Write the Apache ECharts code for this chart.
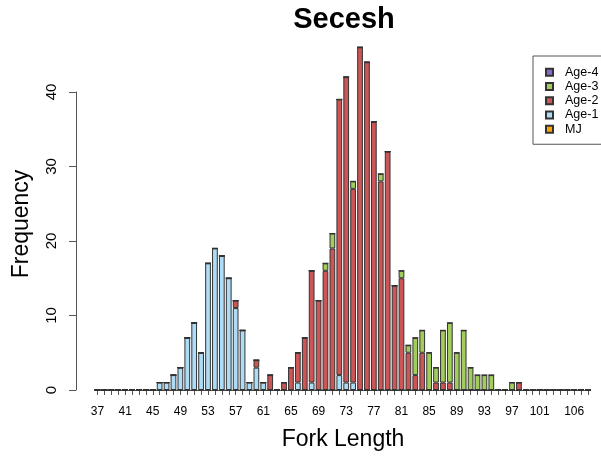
<!DOCTYPE html>
<html>
<head>
<meta charset="utf-8">
<script src="https://cdn.jsdelivr.net/npm/echarts@6/dist/echarts.min.js"></script>
<style>html,body{margin:0;padding:0;background:#fff;}#c{width:601px;height:459px;}</style>
</head>
<body>
<div id="c"></div>
<script>
// Fork length categories 37..108
var categories = [];
for (var v = 37; v <= 108; v++) categories.push(String(v));

// counts per fork length (only non-zero lengths listed)
var mjCounts = {};
var age1Counts = {46:1,47:1,48:2,49:3,50:7,51:9,52:5,53:17,54:19,55:18,56:15,57:11,58:8,59:1,60:3,61:1,66:1,68:1,72:2,73:1,74:1};
var age2Counts = {57:1,60:1,62:2,64:1,65:3,66:4,67:7,68:15,69:12,70:16,71:19,72:37,73:41,74:26,75:46,76:44,77:36,78:28,79:32,80:14,81:15,82:5,83:2,84:5,86:1,87:1,88:1,98:1};
var age3Counts = {70:1,71:2,74:1,78:1,81:1,82:1,83:5,84:3,85:5,86:2,87:7,88:8,89:5,90:8,91:3,92:2,93:2,94:2,97:1};
var age4Counts = {};

var yTicks = [0, 10, 20, 30, 40];
var xLabelsShown = ['37','41','45','49','53','57','61','65','69','73','77','81','85','89','93','97','101','106'];

function toArr(m) { return categories.map(function (c) { return m[c] || 0; }); }

var seriesDefs = [
  {name: 'MJ', data: toArr(mjCounts), color: '#FFA500'},
  {name: 'Age-1', data: toArr(age1Counts), color: '#ADDCF7'},
  {name: 'Age-2', data: toArr(age2Counts), color: '#CD5555'},
  {name: 'Age-3', data: toArr(age3Counts), color: '#A2CD5A'},
  {name: 'Age-4', data: toArr(age4Counts), color: '#8968CD'}
];

var FONT = 'Liberation Sans, Arial, Helvetica, sans-serif';
var chart = echarts.init(document.getElementById('c'), null, {renderer: 'canvas'});

var series = seriesDefs.map(function (s) {
  return {
    name: s.name, type: 'bar', stack: 'all',
    xAxisIndex: 0, yAxisIndex: 0,
    data: s.data, barWidth: '83%',
    itemStyle: {color: s.color, borderColor: '#333', borderWidth: 1},
    emphasis: {disabled: true}, animation: false
  };
});
series.push({type: 'scatter', xAxisIndex: 1, yAxisIndex: 1, data: [], silent: true});

chart.setOption({
  animation: false,
  backgroundColor: '#fff',
  grid: [
    {left: 94, right: 9.5, top: 17.5, bottom: 69},
    {left: 97.5, right: 13, top: 92, bottom: 69}
  ],
  xAxis: [
    {gridIndex: 0, type: 'category', data: categories, show: false, boundaryGap: true},
    {gridIndex: 1, type: 'category', data: categories, boundaryGap: false, offset: 4,
     axisLine: {show: true, lineStyle: {color: '#555', width: 1}},
     axisTick: {show: true, interval: 0, length: 5, lineStyle: {color: '#555'}},
     axisLabel: {
       interval: function (i, val) { return xLabelsShown.indexOf(val) >= 0; },
       fontSize: 12, color: '#000', fontFamily: FONT, margin: 12
     },
     splitLine: {show: false}}
  ],
  yAxis: [
    {gridIndex: 0, type: 'value', min: 0, max: 50, show: false},
    {gridIndex: 1, type: 'value', min: yTicks[0], max: yTicks[yTicks.length - 1], interval: 10, offset: 21.5,
     axisLine: {show: true, lineStyle: {color: '#555', width: 1}},
     axisTick: {show: true, length: 7, lineStyle: {color: '#555'}},
     axisLabel: {rotate: 90, fontSize: 15, color: '#000', fontFamily: FONT, margin: 17},
     splitLine: {show: false}}
  ],
  legend: {
    orient: 'vertical', left: 533, top: 56,
    data: ['Age-4', 'Age-3', 'Age-2', 'Age-1', 'MJ'],
    icon: 'rect', itemWidth: 7, itemHeight: 7, itemGap: 0,
    padding: [9, 20, 8, 12],
    borderColor: '#555', borderWidth: 1,
    textStyle: {fontSize: 12.5, color: '#000', fontFamily: FONT, lineHeight: 14.25, padding: [0, 0, 0, 7]},
    selectedMode: false
  },
  graphic: [
    {type: 'text', x: 344, y: 20, style: {text: 'Secesh', font: 'bold 29px ' + FONT, fill: '#000', textAlign: 'center', textVerticalAlign: 'middle'}},
    {type: 'text', x: 22, y: 224, rotation: Math.PI / 2, style: {text: 'Frequency', font: '23px ' + FONT, fill: '#000', textAlign: 'center', textVerticalAlign: 'middle'}},
    {type: 'text', x: 343, y: 440, style: {text: 'Fork Length', font: '23px ' + FONT, fill: '#000', textAlign: 'center', textVerticalAlign: 'middle'}}
  ],
  series: series
});
</script>
</body>
</html>
